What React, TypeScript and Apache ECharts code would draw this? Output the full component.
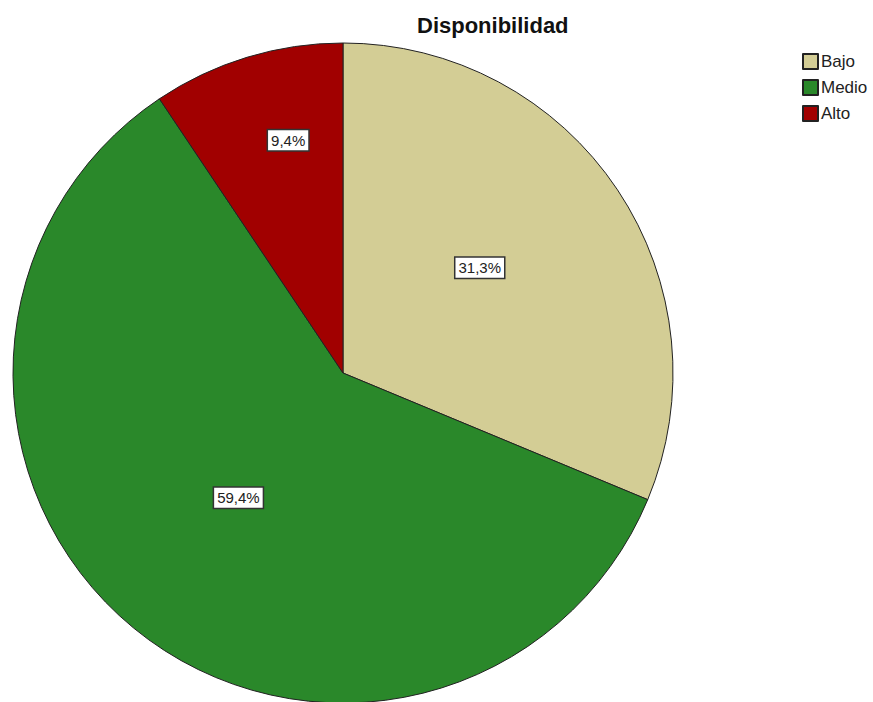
import React, { useEffect, useRef } from "react";
import * as echarts from "echarts";

const title = "Disponibilidad";
const categories = ["Bajo", "Medio", "Alto"];
const percents = [31.3, 59.4, 9.4];
const colors = ["#D3CD95", "#2A882A", "#A10000"];
// label nudges (SPSS places labels slightly differently than ECharts' "inside")
const labelShift = [
  { dx: -3, dy: -12 },
  { dx: 2, dy: -5 },
  { dx: -6, dy: -72 },
];

export default function App() {
  const ref = useRef<HTMLDivElement>(null);
  useEffect(() => {
    document.body.style.margin = "0";
    const chart = echarts.init(ref.current!, null, { renderer: "svg" });
    chart.setOption({
      animation: false,
      backgroundColor: "#ffffff",
      title: {
        text: title,
        left: 412,
        top: 9,
        textStyle: { fontFamily: "Liberation Sans", fontSize: 22, fontWeight: "bold", color: "#111" },
      },
      legend: {
        orient: "vertical",
        left: 797,
        top: 48,
        icon: "rect",
        itemWidth: 15,
        itemHeight: 15,
        itemGap: 9,
        data: categories,
        textStyle: { fontFamily: "Liberation Sans", fontSize: 17, color: "#222", padding: [0, 0, 0, -2] },
      },
      series: [
        {
          type: "pie",
          center: [343, 373],
          radius: 330,
          startAngle: 90,
          clockwise: true,
          itemStyle: { borderColor: "#222", borderWidth: 1 },
          label: {
            position: "inside",
            formatter: (p: any) => p.value.toFixed(1).replace(".", ",") + "%",
            fontFamily: "Liberation Sans",
            fontSize: 15,
            color: "#222",
            backgroundColor: "#fff",
            borderColor: "#333",
            borderWidth: 1.5,
            padding: [3, 3, 2, 3],
          },
          labelLayout: (p: any) => labelShift[p.dataIndex],
          labelLine: { show: false },
          emphasis: { disabled: true },
          data: categories.map((c, i) => ({ name: c, value: percents[i], itemStyle: { color: colors[i] } })),
        },
      ],
    });
    return () => chart.dispose();
  }, []);
  return <div ref={ref} style={{ width: 873, height: 702 }} />;
}
